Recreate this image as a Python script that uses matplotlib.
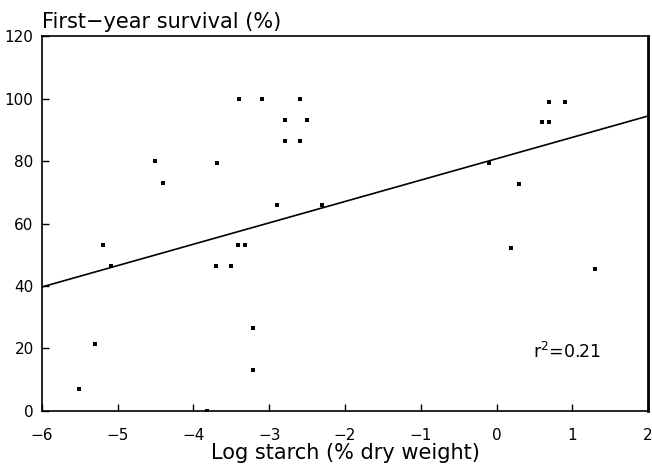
import matplotlib.pyplot as plt

# data
log_starch = [-5.51, -5.30, -5.19, -5.09, -4.51, -4.40, -3.69, -3.70, -3.50,
              -3.41, -3.32, -3.40, -3.82, -3.21, -3.21, -3.10, -2.90, -2.79,
              -2.79, -2.59, -2.59, -2.50, -2.30, -0.10, 0.30, 0.60, 0.69,
              0.69, 0.90, 0.19, 1.30]
survival = [7, 21.5, 53, 46.5, 80, 73, 79.5, 46.5, 46.5,
            53, 53, 100, 0, 26.5, 13, 100, 66, 93,
            86.5, 100, 86.5, 93, 66, 79.5, 72.5, 92.5, 92.5,
            99, 99, 52, 45.5]

fit_x = [-6, 2]
fit_y = [39.7, 94.4]

fig = plt.figure(figsize=(6.52, 4.69), dpi=100)
ax = fig.add_axes([0.0644, 0.1237, 0.9295, 0.7995])

ax.plot(log_starch, survival, 's', color='black', markersize=2.2, markeredgewidth=0)
ax.plot(fit_x, fit_y, '-', color='black', linewidth=1.2)

ax.set_xlim(-6, 2)
ax.set_ylim(0, 120)
ax.set_xticks(range(-6, 3))
ax.set_yticks(range(0, 121, 20))
ax.set_xticklabels([str(v).replace('-', '\u2212') for v in range(-6, 3)])
ax.tick_params(direction='in', length=5, width=1, labelsize=11)
ax.tick_params(axis='x', pad=12)
ax.tick_params(axis='y', pad=6)
for s in ax.spines.values():
    s.set_linewidth(1.2)
ax.spines['right'].set_linewidth(2)

ax.text(0.48, 17, 'r$^2$=0.21', fontsize=12.5)
ax.set_xlabel('Log starch (% dry weight)', fontsize=15, labelpad=0)
fig.text(42 / 652, 1 - 22 / 469, 'First\u2212year survival (%)', fontsize=15,
         va='center', ha='left')

fig.savefig('out.png', dpi=100)
